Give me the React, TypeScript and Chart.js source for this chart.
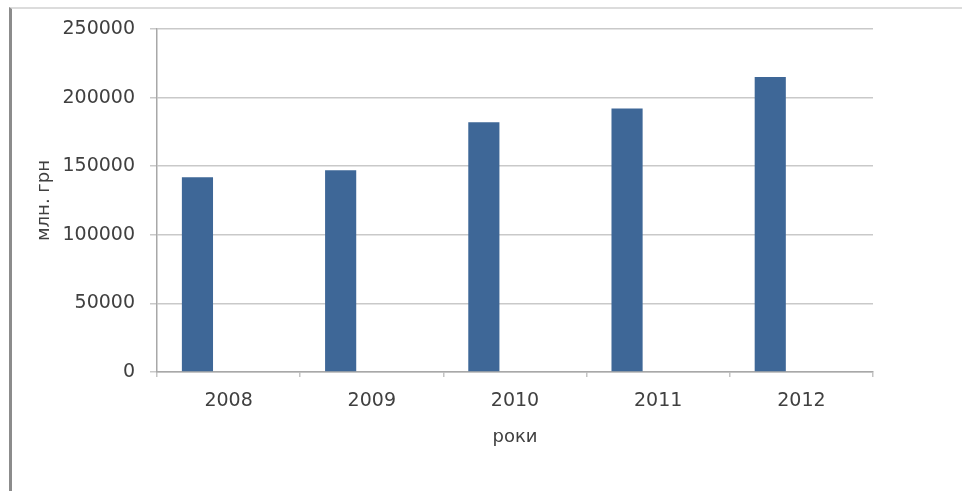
import { useEffect, useRef } from "react";
import { Chart, registerables } from "chart.js";

Chart.register(...registerables);

const FONT = "'DejaVu Sans', sans-serif";
const TEXT = "#404040";
const GRID = "#c9c9c9";
const AXIS = "#a8a8a8";
const BAR = "#3e6797";

const years = ["2008", "2009", "2010", "2011", "2012"];
const revenue = [142000, 147000, 182000, 192000, 215000];
const emptySeries = [null, null, null, null, null];

export default function App() {
  const ref = useRef<HTMLCanvasElement>(null);

  useEffect(() => {
    if (!ref.current) return;
    const chart = new Chart(ref.current, {
      type: "bar",
      data: {
        labels: years,
        datasets: [
          { label: "млн. грн", data: revenue, backgroundColor: BAR, categoryPercentage: 0.87, barPercentage: 0.5 },
          { label: "", data: emptySeries, backgroundColor: BAR, categoryPercentage: 0.87, barPercentage: 0.5 },
        ],
      },
      options: {
        responsive: false,
        animation: false,
        layout: { padding: { left: 30, right: 89, top: 29, bottom: 43 } },
        plugins: { legend: { display: false }, tooltip: { enabled: false } },
        scales: {
          x: {
            afterFit: (s) => { s.height = 76; },
            grid: { drawOnChartArea: false, tickLength: 5, color: "#c4c4c4", lineWidth: 1.5 },
            border: { color: AXIS, width: 1.5 },
            ticks: { font: { family: FONT, size: 19 }, color: TEXT, padding: 13, maxRotation: 0 },
            title: { display: true, text: "роки", font: { family: FONT, size: 18 }, color: TEXT, padding: { top: 13, bottom: 0 } },
          },
          y: {
            min: 0,
            max: 250000,
            afterFit: (s) => { s.width = 127; },
            grid: { color: GRID, lineWidth: 1.5, tickLength: 7 },
            border: { color: AXIS, width: 1.5 },
            ticks: { stepSize: 50000, font: { family: FONT, size: 19 }, color: TEXT, padding: 15, callback: (v) => String(v) },
            title: { display: true, text: "млн. грн", font: { family: FONT, size: 18 }, color: TEXT, padding: { top: 4, bottom: 0 } },
          },
        },
      },
    });
    return () => chart.destroy();
  }, []);

  return (
    <div style={{ position: "fixed", left: 0, top: 0, width: 962, height: 491, background: "#fff", overflow: "hidden" }}>
      <div style={{ position: "absolute", left: 9, top: 7, right: 0, bottom: 0, borderLeft: "3px solid #8c8c8c", borderTop: "2px solid #dcdcdc" }} />
      <canvas ref={ref} width={962} height={491} style={{ position: "absolute", left: 0, top: 0, display: "block" }} />
    </div>
  );
}
